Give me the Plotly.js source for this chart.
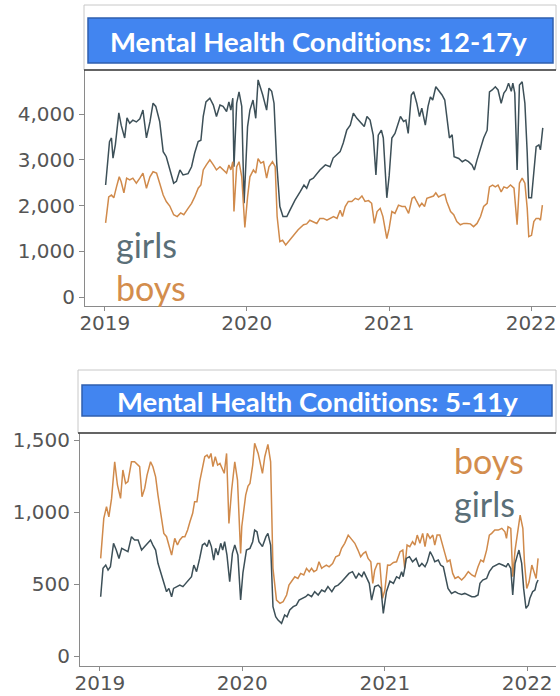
<!DOCTYPE html>
<html>
<head>
<meta charset="utf-8">
<script src="https://cdn.plot.ly/plotly-3.0.1.min.js"></script>
<style>
html,body{margin:0;padding:0;background:#fff;}
#chart{width:560px;height:696px;}
svg text{font-variant-ligatures:none;font-feature-settings:"liga" 0,"clig" 0,"dlig" 0;}
</style>
</head>
<body>
<div id="chart"></div>
<script>
// ---- DATA (weeks since 2019-01-01) ----
const startDate = '2019-01-01';
const yearTicks = ['2019-01-01','2020-01-01','2021-01-01','2022-01-01'];
const yearLabels = ['2019','2020','2021','2022'];
const titleTeen = 'Mental Health Conditions: 12-17y';
const titleChild = 'Mental Health Conditions: 5-11y';

// 12-17y girls
const teenGirlsWeeks = [0.4,1.8,2.5,3.1,3.9,5.2,6.1,7.4,8.2,9.2,
10.4,11.7,12.9,14.1,15.3,16.6,17.8,18.8,20.2,21.5,
22.7,23.9,25.4,26.4,27.6,28.8,30.7,31.9,33.1,34.3,
35.3,36.2,37.2,38.6,39.9,41.1,42.3,43.5,44.8,45.6,
46.4,47.0,47.5,48.5,49.3,50.3,51.2,52.5,53.4,54.5,
55.5,56.3,57.4,58.1,59.5,60.4,61.3,62.2,63.2,64.4,
65.5,66.9,68.1,69.9,71.8,73.2,74.2,75.4,76.7,77.9,
79.1,81.0,82.8,83.9,85.3,86.5,87.6,88.9,90.2,91.3,
92.6,93.8,95.3,96.3,97.5,98.6,99.6,100.5,101.6,102.3,
103.7,104.5,105.5,106.7,108.6,109.8,110.7,111.5,112.6,113.5,
114.7,115.6,116.5,117.8,118.8,119.6,120.5,121.7,122.7,123.9,
124.9,125.7,126.6,127.6,128.4,130.0,131.3,132.5,133.7,134.9,
135.8,136.8,138.0,139.2,140.5,141.3,142.3,143.5,144.5,145.7,
146.6,147.5,148.4,149.3,149.9,150.6,151.5,152.4,153.3,154.3,
155.2,155.8,156.8,157.6,158.5,159.5,160.1,160.9];
const teenGirls = [2450,3400,3480,3040,3330,4030,3760,3480,3920,3800,
3870,3830,3900,4090,3480,3830,4240,4170,3840,3180,
3070,2820,2490,2530,2780,2670,2700,2850,3150,3400,
3430,3950,4270,4350,4200,3950,4200,4170,4060,4270,
4090,4350,2850,4240,4490,4170,2050,3730,4090,4310,
3910,4750,4570,4420,4090,4570,4500,4240,2930,1980,
1760,1760,1900,2120,2300,2450,2380,2560,2600,2710,
2780,2890,2850,3040,3110,3180,3370,3650,3760,4020,
3910,3840,3730,3950,3870,3540,2670,3540,3650,3480,
2170,2650,3480,3580,3950,3840,3870,3580,4420,4490,
4240,3950,4130,3760,4170,4380,4310,4600,4530,4420,
4310,3950,3480,3550,3070,3030,2960,3000,2960,2890,
2780,3000,3260,3480,3650,4490,4530,4600,4530,4240,
4460,4530,4680,4500,4680,4460,2780,4640,4710,4240,
3150,2170,2170,2780,3290,3330,3220,3700];

// 12-17y boys
const teenBoysWeeks = [0.4,1.5,2.5,3.4,4.3,5.3,6.1,7.1,8.0,9.2,
10.4,11.7,12.9,14.1,15.3,16.6,17.8,19.0,20.2,21.5,
22.7,23.9,25.4,26.6,27.9,29.1,30.7,31.9,33.1,34.3,
35.3,36.2,37.4,38.6,39.9,41.1,42.3,43.5,44.8,45.7,
46.4,47.0,47.5,48.5,49.3,50.3,51.5,52.5,53.4,54.6,
55.5,56.4,57.4,58.3,59.5,60.4,61.6,62.6,63.4,64.4,
65.4,66.5,67.5,69.3,71.1,73.0,74.2,75.4,76.7,77.9,
79.1,80.3,81.6,82.8,84.0,85.3,86.5,87.3,88.3,89.5,
90.8,92.0,93.2,94.5,95.7,96.9,98.1,99.1,100.0,101.2,
102.2,103.7,104.5,105.5,106.7,107.9,109.2,110.4,111.6,112.9,
113.8,114.7,115.7,116.5,117.5,118.4,119.6,120.8,121.7,122.7,
123.9,124.9,125.7,127.0,128.2,129.4,130.6,131.9,133.1,134.3,
135.5,136.8,138.0,139.2,140.5,141.4,142.5,143.5,144.5,145.7,
146.6,147.8,149.0,150.3,151.5,152.4,153.3,154.3,155.2,155.8,
156.8,157.6,158.5,159.5,160.1,160.8];
const teenBoys = [1620,2190,2230,2170,2410,2630,2520,2280,2600,2560,
2600,2490,2600,2710,2380,2630,2740,2710,2490,2230,
2090,1990,1800,1760,1840,1800,1940,2050,2190,2380,
2450,2780,2890,3000,2890,2780,2850,2780,2710,2890,
2780,2960,1870,2850,2960,2630,1520,2190,2630,2780,
2710,3030,2930,2960,2600,2850,2960,2850,1760,1210,
1240,1140,1210,1360,1470,1580,1600,1680,1650,1610,
1720,1720,1680,1720,1760,1720,1900,1760,1980,2090,
2090,2160,2130,2210,2090,2110,2050,1610,1870,1940,
1760,1280,1500,1870,1830,2010,1980,1980,1830,2160,
2190,2090,1980,2050,1980,2160,2190,2210,2280,2190,
2230,2250,2090,1870,1800,1650,1580,1610,1610,1600,
1540,1610,1760,1980,2050,2410,2450,2410,2450,2300,
2410,2380,2450,2380,1580,2490,2600,2490,1940,1320,
1350,1650,1720,1720,1680,2010];

// 5-11y boys
const childBoysWeeks = [0.4,1.5,2.5,3.4,4.3,5.5,6.5,7.6,8.5,9.5,
10.4,11.6,12.8,14.0,14.7,15.5,16.5,17.3,18.6,19.5,
20.5,21.4,22.4,23.5,24.5,25.4,26.3,27.5,28.5,29.3,
30.3,31.2,32.2,33.0,34.0,34.8,35.7,36.7,37.7,38.5,
39.3,40.1,40.8,41.5,42.4,43.2,44.0,44.8,45.6,46.5,
47.4,48.3,49.5,50.5,51.6,52.1,53.5,54.4,55.0,56.0,
56.8,58.0,59.7,60.5,61.7,62.7,63.5,64.8,66.0,67.2,
68.5,69.4,70.7,71.5,72.7,73.7,74.8,75.8,76.8,77.6,
78.5,79.5,80.4,81.3,82.1,83.1,84.1,85.3,86.5,87.8,
88.6,89.8,91.0,92.3,93.5,94.7,95.6,96.6,97.5,98.4,
99.4,100.0,100.8,101.8,102.7,103.7,104.5,105.5,106.3,107.6,
108.8,110.0,111.0,111.8,112.7,113.7,114.7,115.5,116.4,117.3,
118.3,119.2,120.0,121.0,122.0,122.8,123.7,124.7,125.7,126.5,
127.4,128.3,129.3,130.2,131.4,132.6,133.8,135.1,136.3,137.5,
138.7,139.6,140.6,141.8,142.8,143.6,144.8,146.1,147.3,148.5,
149.1,149.7,150.6,151.3,152.2,153.0,154.0,155.0,155.6,156.5,
157.4,158.3,159.1,159.9,160.7];
const childBoys = [678,956,1037,967,1095,1349,1188,1095,1292,1199,
1211,1349,1349,1326,1315,1106,1164,1257,1349,1315,
1245,1118,991,852,829,771,701,817,771,806,
829,829,875,933,991,1072,1072,1211,1303,1384,
1396,1373,1407,1315,1384,1326,1338,1303,1269,1407,
921,1153,1349,1222,713,900,1118,1180,1199,1326,
1477,1407,1269,1384,1470,1349,609,389,366,377,
424,493,528,551,539,574,563,609,586,609,
586,597,655,609,620,632,620,643,690,701,
748,783,840,806,783,736,690,713,725,678,
655,505,597,643,643,401,458,632,630,650,
655,725,736,609,771,760,794,771,840,783,
852,760,852,817,840,771,840,840,760,713,
655,667,574,539,551,528,551,586,563,551,
620,667,655,736,840,852,875,875,887,863,
817,898,887,551,736,863,979,887,655,470,
516,632,586,539,678];

// 5-11y girls
const childGirlsWeeks = [0.4,1.2,2.2,3.0,3.9,5.1,6.1,7.1,8.0,9.2,
10.4,11.6,12.8,14.0,15.3,16.5,17.7,18.6,19.5,20.5,
21.4,22.4,23.5,24.5,25.4,26.3,27.1,28.3,29.3,30.5,
31.5,32.4,33.6,34.5,35.5,36.7,37.7,38.5,39.3,40.1,
40.9,41.8,42.5,43.4,44.3,45.0,45.8,46.7,47.7,48.7,
49.5,50.7,51.6,52.5,53.8,55.0,56.0,56.8,57.7,58.4,
59.7,60.9,61.7,62.6,63.5,64.5,65.4,66.6,67.8,68.7,
69.7,70.9,72.1,73.1,74.3,75.5,76.4,77.6,78.8,80.1,
81.3,82.5,83.7,85.0,86.2,87.4,88.6,90.2,91.4,92.7,
93.9,94.9,96.0,96.8,97.8,98.8,99.6,100.8,102.0,103.0,
103.9,105.1,106.3,107.6,108.8,109.8,110.6,111.2,111.8,112.4,
113.5,114.7,115.9,117.1,118.0,119.2,120.0,121.0,122.0,122.8,
124.0,124.9,125.9,126.9,127.7,128.9,130.2,131.4,132.6,133.8,
135.1,136.3,137.5,138.7,139.3,140.3,141.8,142.8,144.0,145.2,
146.4,147.7,148.9,149.7,150.6,151.3,152.2,153.0,153.7,154.6,
155.4,156.2,157.0,157.7,158.7,159.5,160.1,160.7];
const childGirls = [412,609,632,597,620,783,736,678,748,736,
725,829,806,806,736,760,783,806,771,736,
644,586,516,447,470,412,470,482,493,482,
505,528,551,632,586,678,771,783,760,806,
760,667,748,701,783,736,794,701,516,713,
771,701,389,580,736,748,794,875,863,794,
760,829,852,771,343,273,250,227,285,273,
320,343,354,389,401,412,428,412,447,424,
459,447,482,447,482,493,516,551,574,586,
539,574,551,586,539,505,389,482,493,470,
296,447,520,505,551,539,586,551,609,678,
690,655,678,620,643,620,655,725,690,655,
667,632,620,516,470,435,447,435,428,435,
424,412,412,424,505,528,539,586,620,632,
643,632,620,643,609,424,643,701,736,643,
470,331,354,401,447,459,505,528];

const teenYTicks = [0,1000,2000,3000,4000];
const childYTicks = [0,500,1000,1500];

// ---- helpers ----
const t0 = Date.parse(startDate + 'T00:00:00Z');
function toDates(weeks){ return weeks.map(w => new Date(t0 + w*7*86400000).toISOString().slice(0,10)); }

const W = 560, H = 696;
const fx = x => x / W;
const fy = y => 1 - y / H;

const GIRLS = '#3d5058';
const BOYS = '#d08a4b';
const GIRLS_TXT = '#5a6f78';
const BOYS_TXT = '#d38d4d';
const AXIS = '#8a8a8a';
const TICKTXT = '#555555';

const traces = [
  {x: toDates(teenGirlsWeeks), y: teenGirls, xaxis:'x', yaxis:'y', mode:'lines', line:{color:GIRLS, width:1.5}, hoverinfo:'skip'},
  {x: toDates(teenBoysWeeks), y: teenBoys, xaxis:'x', yaxis:'y', mode:'lines', line:{color:BOYS, width:1.5}, hoverinfo:'skip'},
  {x: toDates(childBoysWeeks), y: childBoys, xaxis:'x2', yaxis:'y2', mode:'lines', line:{color:BOYS, width:1.5}, hoverinfo:'skip'},
  {x: toDates(childGirlsWeeks), y: childGirls, xaxis:'x2', yaxis:'y2', mode:'lines', line:{color:GIRLS, width:1.5}, hoverinfo:'skip'}
];

const tickFont = {family:'DejaVu Sans', size:20, color:TICKTXT};
const xCommon = {type:'date', tickvals:yearTicks, ticktext:yearLabels, showline:true, linecolor:AXIS, linewidth:1,
  ticks:'outside', ticklen:4, tickcolor:AXIS, showgrid:false, zeroline:false, tickfont:tickFont, fixedrange:true,
  ticklabelstandoff:-5};
const yCommon = {showline:true, linecolor:AXIS, linewidth:1, ticks:'outside', ticklen:5, tickcolor:AXIS,
  showgrid:false, zeroline:false, tickformat:',', tickfont:tickFont, fixedrange:true};

const titleFont = {family:'Lato', size:27.5, color:'#ffffff'};

const layout = {
  width: W, height: H,
  margin:{l:0,r:0,t:0,b:0},
  paper_bgcolor:'#ffffff', plot_bgcolor:'#ffffff',
  showlegend:false,
  separators:'.,',
  xaxis: Object.assign({}, xCommon, {domain:[fx(85), fx(556)], anchor:'y', range:['2018-11-11','2022-03-06']}),
  yaxis: Object.assign({}, yCommon, {domain:[fy(306), fy(70)], anchor:'x', range:[-197,4967], tickvals:teenYTicks}),
  xaxis2: Object.assign({}, xCommon, {domain:[fx(80), fx(556)], anchor:'y2', range:['2018-11-11','2022-03-16']}),
  yaxis2: Object.assign({}, yCommon, {domain:[fy(666), fy(433)], anchor:'x2', range:[-69,1549], tickvals:childYTicks}),
  shapes: [
    {type:'rect', xref:'paper', yref:'paper', x0:fx(84), x1:fx(556), y0:fy(70), y1:fy(5), line:{color:'#c8c8c8', width:1}, fillcolor:'rgba(0,0,0,0)', layer:'below'},
    {type:'rect', xref:'paper', yref:'paper', x0:fx(88), x1:fx(553), y0:fy(63), y1:fy(18), line:{color:'#2f5fae', width:1.5}, fillcolor:'#4285f0'},
    {type:'line', xref:'paper', yref:'paper', x0:fx(84), x1:fx(556), y0:fy(70), y1:fy(70), line:{color:'#3a3a3a', width:1.5}},
    {type:'rect', xref:'paper', yref:'paper', x0:fx(78), x1:fx(556), y0:fy(433), y1:fy(370), line:{color:'#c8c8c8', width:1}, fillcolor:'rgba(0,0,0,0)', layer:'below'},
    {type:'rect', xref:'paper', yref:'paper', x0:fx(82), x1:fx(552), y0:fy(416), y1:fy(385), line:{color:'#2f5fae', width:1.5}, fillcolor:'#4285f0'},
    {type:'line', xref:'paper', yref:'paper', x0:fx(78), x1:fx(556), y0:fy(433), y1:fy(433), line:{color:'#3a3a3a', width:1.5}}
  ],
  annotations: [
    {xref:'paper', yref:'paper', x:fx(318), y:fy(41), xanchor:'center', yanchor:'middle', showarrow:false,
     text:'<b>'+titleTeen+'</b>', font:titleFont},
    {xref:'paper', yref:'paper', x:fx(317), y:fy(401), xanchor:'center', yanchor:'middle', showarrow:false,
     text:'<b>'+titleChild+'</b>', font:titleFont},
    {xref:'paper', yref:'paper', x:fx(114), y:fy(244), xanchor:'left', yanchor:'middle', showarrow:false,
     text:'girls', font:{family:'Lato', size:34, color:GIRLS_TXT}},
    {xref:'paper', yref:'paper', x:fx(114), y:fy(287), xanchor:'left', yanchor:'middle', showarrow:false,
     text:'boys', font:{family:'Lato', size:34, color:BOYS_TXT}},
    {xref:'paper', yref:'paper', x:fx(452), y:fy(460), xanchor:'left', yanchor:'middle', showarrow:false,
     text:'boys', font:{family:'Lato', size:34, color:BOYS_TXT}},
    {xref:'paper', yref:'paper', x:fx(452), y:fy(503), xanchor:'left', yanchor:'middle', showarrow:false,
     text:'girls', font:{family:'Lato', size:34, color:GIRLS_TXT}}
  ]
};

Plotly.newPlot('chart', traces, layout, {displayModeBar:false, staticPlot:true});
</script>
</body>
</html>
